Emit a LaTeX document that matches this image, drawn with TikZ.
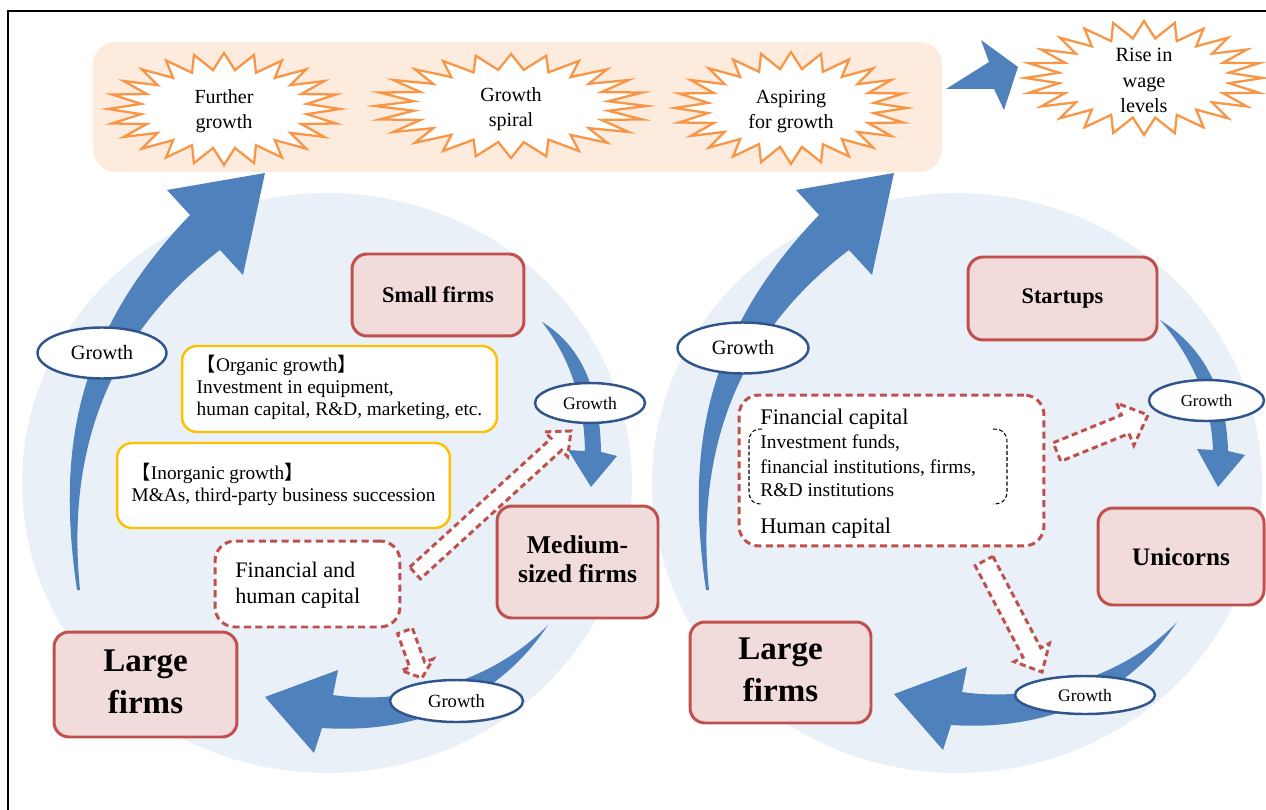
\documentclass[tikz,border=0pt]{standalone}
\usepackage{fontspec}
\setmainfont{Liberation Serif}
\newfontfamily\cjkfont{Noto Sans CJK JP}
\usetikzlibrary{shapes.geometric,calc}
\definecolor{bandc}{RGB}{253,235,222}
\definecolor{circc}{RGB}{234,240,247}
\definecolor{orangec}{RGB}{247,150,70}
\definecolor{bluec}{RGB}{79,129,189}
\definecolor{pinkf}{RGB}{242,220,219}
\definecolor{pinkd}{RGB}{192,80,77}
\definecolor{gdark}{RGB}{47,85,140}
\definecolor{yell}{RGB}{255,192,0}
\newcommand\myfsz[2]{\fontsize{#1}{#2}\selectfont}
\newcommand\clines[1]{\begin{tabular}{@{}c@{}}#1\end{tabular}}
\newcommand\llines[1]{\begin{tabular}{@{}l@{}}#1\end{tabular}}
\newcommand\starb[4]{%
  \draw[burstl] plot[samples=48, domain=0:47, variable=\k]
    ({#1+#3*(1-0.28*mod(\k,2))*cos(\k*7.5)}, {#2+#4*(1-0.3*mod(\k,2))*sin(\k*7.5)}) -- cycle;}
\newcommand\hollowarrow[6]{%
  \coordinate (#1b) at ($(#3)!#6!(#2)$);
  \draw[hollowarr] ($(#2)!#4!90:(#3)$) -- ($(#1b)!#4!-90:(#2)$) -- ($(#1b)!#5!-90:(#2)$) -- (#3)
    -- ($(#1b)!#5!90:(#2)$) -- ($(#1b)!#4!90:(#2)$) -- ($(#2)!#4!-90:(#3)$) -- cycle;
}
\begin{document}
\begin{tikzpicture}[x=0.02cm,y=-0.02cm,
  band/.style={fill=bandc, rounded corners=0.45cm, minimum width=16.98cm, minimum height=2.6cm, inner sep=0},
  circ/.style={ellipse, fill=circc, minimum width=12.2cm, minimum height=11.6cm, inner sep=0},
  burstl/.style={draw=orangec, fill=white, line width=1.3pt},
  bursttext/.style={inner sep=0, font=\myfsz{11.4}{14}},
  firm/.style={draw=pinkd, fill=pinkf, line width=1.7pt, rounded corners=0.3cm, inner sep=0},
  growell/.style={ellipse, draw=gdark, fill=white, line width=1.4pt, inner sep=0},
  ybox/.style={draw=yell, fill=white, line width=1.4pt, rounded corners=0.3cm, inner sep=0, font=\myfsz{11}{12.5}},
  dbox/.style={draw=pinkd, fill=white, line width=1.7pt, dash pattern=on 4pt off 2.5pt, rounded corners=0.4cm, inner sep=0},
  hollowarr/.style={draw=pinkd, fill=white, line width=1.7pt, dash pattern=on 3.5pt off 2.2pt},
  bluearr/.style={fill=bluec},
  brk/.style={draw=black, line width=0.6pt, dash pattern=on 2.2pt off 1.3pt},
  captext/.style={anchor=base west, inner sep=0}
]
\useasboundingbox (0,0) rectangle (1266,810);
% frame
\coordinate (fTR) at (1266,11);
\coordinate (fTL) at (8,11);
\coordinate (fBL) at (8,810);
\draw[line width=0.9pt] (fTR) -- (fTL) -- (fBL);

% band and circles
\node[band] (band) at (517.5,107) {};
\node[circ] (lc) at (327,483) {};
\node[circ] (rc) at (957,483) {};

% starbursts
\starb{224}{109}{116}{56}
\starb{511}{106}{136}{52}
\starb{791}{108}{116}{56}
\starb{1144}{78}{119}{57}
\node[bursttext] (b1) at (224,111) {\clines{Further\\growth}};
\node[bursttext] (b2) at (511,109) {\clines{Growth\\spiral}};
\node[bursttext] (b3) at (791,111) {\clines{Aspiring\\for growth}};
\node[bursttext, font=\myfsz{11.5}{14.6}] (b4) at (1144,82) {\clines{Rise in\\wage\\levels}};

% top blue arrow
\fill[bluearr] (946,89) -- (989,62) -- (981,40) -- (1018,67) -- (1004,110) -- (994,89) -- cycle;

% big blue arrows
\fill[bluearr] (77,590) .. controls (58,460) and (70,340) .. (190,215) -- (167,190) -- (265,173) -- (243,275) -- (220,250)
  .. controls (95,345) and (68,470) .. (80,590) -- cycle;
\begin{scope}[shift={(629,0)}]
\fill[bluearr] (77,590) .. controls (58,460) and (70,340) .. (190,215) -- (167,190) -- (265,173) -- (243,275) -- (220,250)
  .. controls (95,345) and (68,470) .. (80,590) -- cycle;
\end{scope}

% small blue arrows
\fill[bluearr] (542,322) .. controls (575,342) and (600,380) .. (601,452) -- (617,456) -- (591,487) -- (568,450) -- (585,451)
  .. controls (584,400) and (570,358) .. (542,322) -- cycle;
\fill[bluearr] (1160,320) .. controls (1195,342) and (1226,380) .. (1228,451) -- (1245,455) -- (1218,487) -- (1197,449) -- (1213,450)
  .. controls (1211,400) and (1192,357) .. (1160,320) -- cycle;
\fill[bluearr] (548,625) .. controls (490,685) and (400,705) .. (333,695) -- (338,670) -- (265,697) -- (314,753) -- (322,728)
  .. controls (430,735) and (505,690) .. (548,625) -- cycle;
\begin{scope}[shift={(629,-3)}]
\fill[bluearr] (548,625) .. controls (490,685) and (400,705) .. (333,695) -- (338,670) -- (265,697) -- (314,753) -- (322,728)
  .. controls (430,735) and (505,690) .. (548,625) -- cycle;
\end{scope}

% firm boxes
\node[firm, minimum width=3.44cm, minimum height=1.64cm, font=\bfseries\myfsz{12.8}{15}] (small) at (438,295) {Small firms};
\node[firm, minimum width=3.22cm, minimum height=2.24cm, font=\bfseries\myfsz{14.6}{17}] (medium) at (577.5,562) {\raisebox{-2pt}{\clines{Medium-\\sized firms}}};
\node[firm, minimum width=3.66cm, minimum height=2.1cm, font=\bfseries\myfsz{18.8}{23.8}] (largeL) at (145.5,684.5) {\raisebox{-1.5pt}{\clines{Large\\firms}}};
\node[firm, minimum width=3.78cm, minimum height=1.66cm, font=\bfseries\myfsz{12.7}{15}] (startups) at (1062.5,298.5) {Startups};
\node[firm, minimum width=3.32cm, minimum height=1.94cm, font=\bfseries\myfsz{14.3}{17}] (unicorns) at (1181,556.5) {Unicorns};
\node[firm, minimum width=3.62cm, minimum height=2.02cm, font=\bfseries\myfsz{18.8}{23.8}] (largeR) at (780.5,672.5) {\clines{Large\\firms}};

% yellow boxes
\node[ybox, minimum width=6.3cm, minimum height=1.72cm] (org) at (339.5,389)
  {\llines{{\cjkfont 【}Organic growth{\cjkfont 】}\\Investment in equipment,\\human capital, R\&D, marketing, etc.}};
\node[ybox, minimum width=6.66cm, minimum height=1.7cm] (inorg) at (283.5,485.5)
  {\llines{{\cjkfont 【}Inorganic growth{\cjkfont 】}\\M\&As, third-party business succession}};

% dashed boxes
\node[dbox, minimum width=3.7cm, minimum height=1.72cm] (fh) at (307.5,584) {};
\node[anchor=west, inner sep=0, font=\myfsz{12.6}{15}] (fhtext) at (235,585) {\llines{Financial and\\human capital}};
\node[dbox, minimum width=6.1cm, minimum height=3.02cm] (cap) at (891.5,470.5) {};
\node[captext, font=\myfsz{12.7}{14}] (c1) at (760,424) {Financial capital};
\node[captext, font=\myfsz{11.1}{13}] (c2) at (760,448) {Investment funds,};
\node[captext, font=\myfsz{11.1}{13}] (c3) at (760,473) {financial institutions, firms,};
\node[captext, font=\myfsz{11.1}{13}] (c4) at (760,496) {R\&D institutions};
\node[captext, font=\myfsz{12.7}{14}] (c5) at (760,533) {Human capital};
\draw[brk] (762,429) .. controls (752,429) and (749,434) .. (749,442) -- (749,491) .. controls (749,499) and (752,504) .. (762,504);
\draw[brk] (993,429) .. controls (1003,429) and (1007,434) .. (1007,442) -- (1007,491) .. controls (1007,499) and (1003,504) .. (993,504);

% growth ellipses
\node[growell, minimum width=2.58cm, minimum height=1.02cm, font=\myfsz{11.6}{14}] (gL) at (102,353) {Growth};
\node[growell, minimum width=2.62cm, minimum height=1.02cm, font=\myfsz{11.6}{14}] (gR) at (743,348) {Growth};
\node[growell, minimum width=2.2cm, minimum height=0.8cm, font=\myfsz{10}{12}] (g1) at (590,403) {Growth};
\node[growell, minimum width=2.66cm, minimum height=0.84cm, font=\myfsz{10.6}{12}] (g2) at (456.5,701) {Growth};
\node[growell, minimum width=2.3cm, minimum height=0.82cm, font=\myfsz{9.6}{12}] (g3) at (1206.5,400.5) {Growth};
\node[growell, minimum width=2.8cm, minimum height=0.76cm, font=\myfsz{10}{12}] (g4) at (1085,695) {Growth};

% hollow dashed arrows
\coordinate (h1s) at (415,573); \coordinate (h1e) at (571,431);
\coordinate (h2s) at (405,631); \coordinate (h2e) at (422,678);
\coordinate (h3s) at (1057,452); \coordinate (h3e) at (1148,415);
\coordinate (h4s) at (984,561); \coordinate (h4e) at (1042,672);
\hollowarrow{ha}{h1s}{h1e}{4.5pt}{9.6pt}{11.3pt}
\hollowarrow{hb}{h2s}{h2e}{4.5pt}{9.6pt}{8pt}
\hollowarrow{hc}{h3s}{h3e}{5.7pt}{13pt}{14pt}
\hollowarrow{hd}{h4s}{h4e}{5.7pt}{11.3pt}{12.5pt}
\end{tikzpicture}
\end{document}
